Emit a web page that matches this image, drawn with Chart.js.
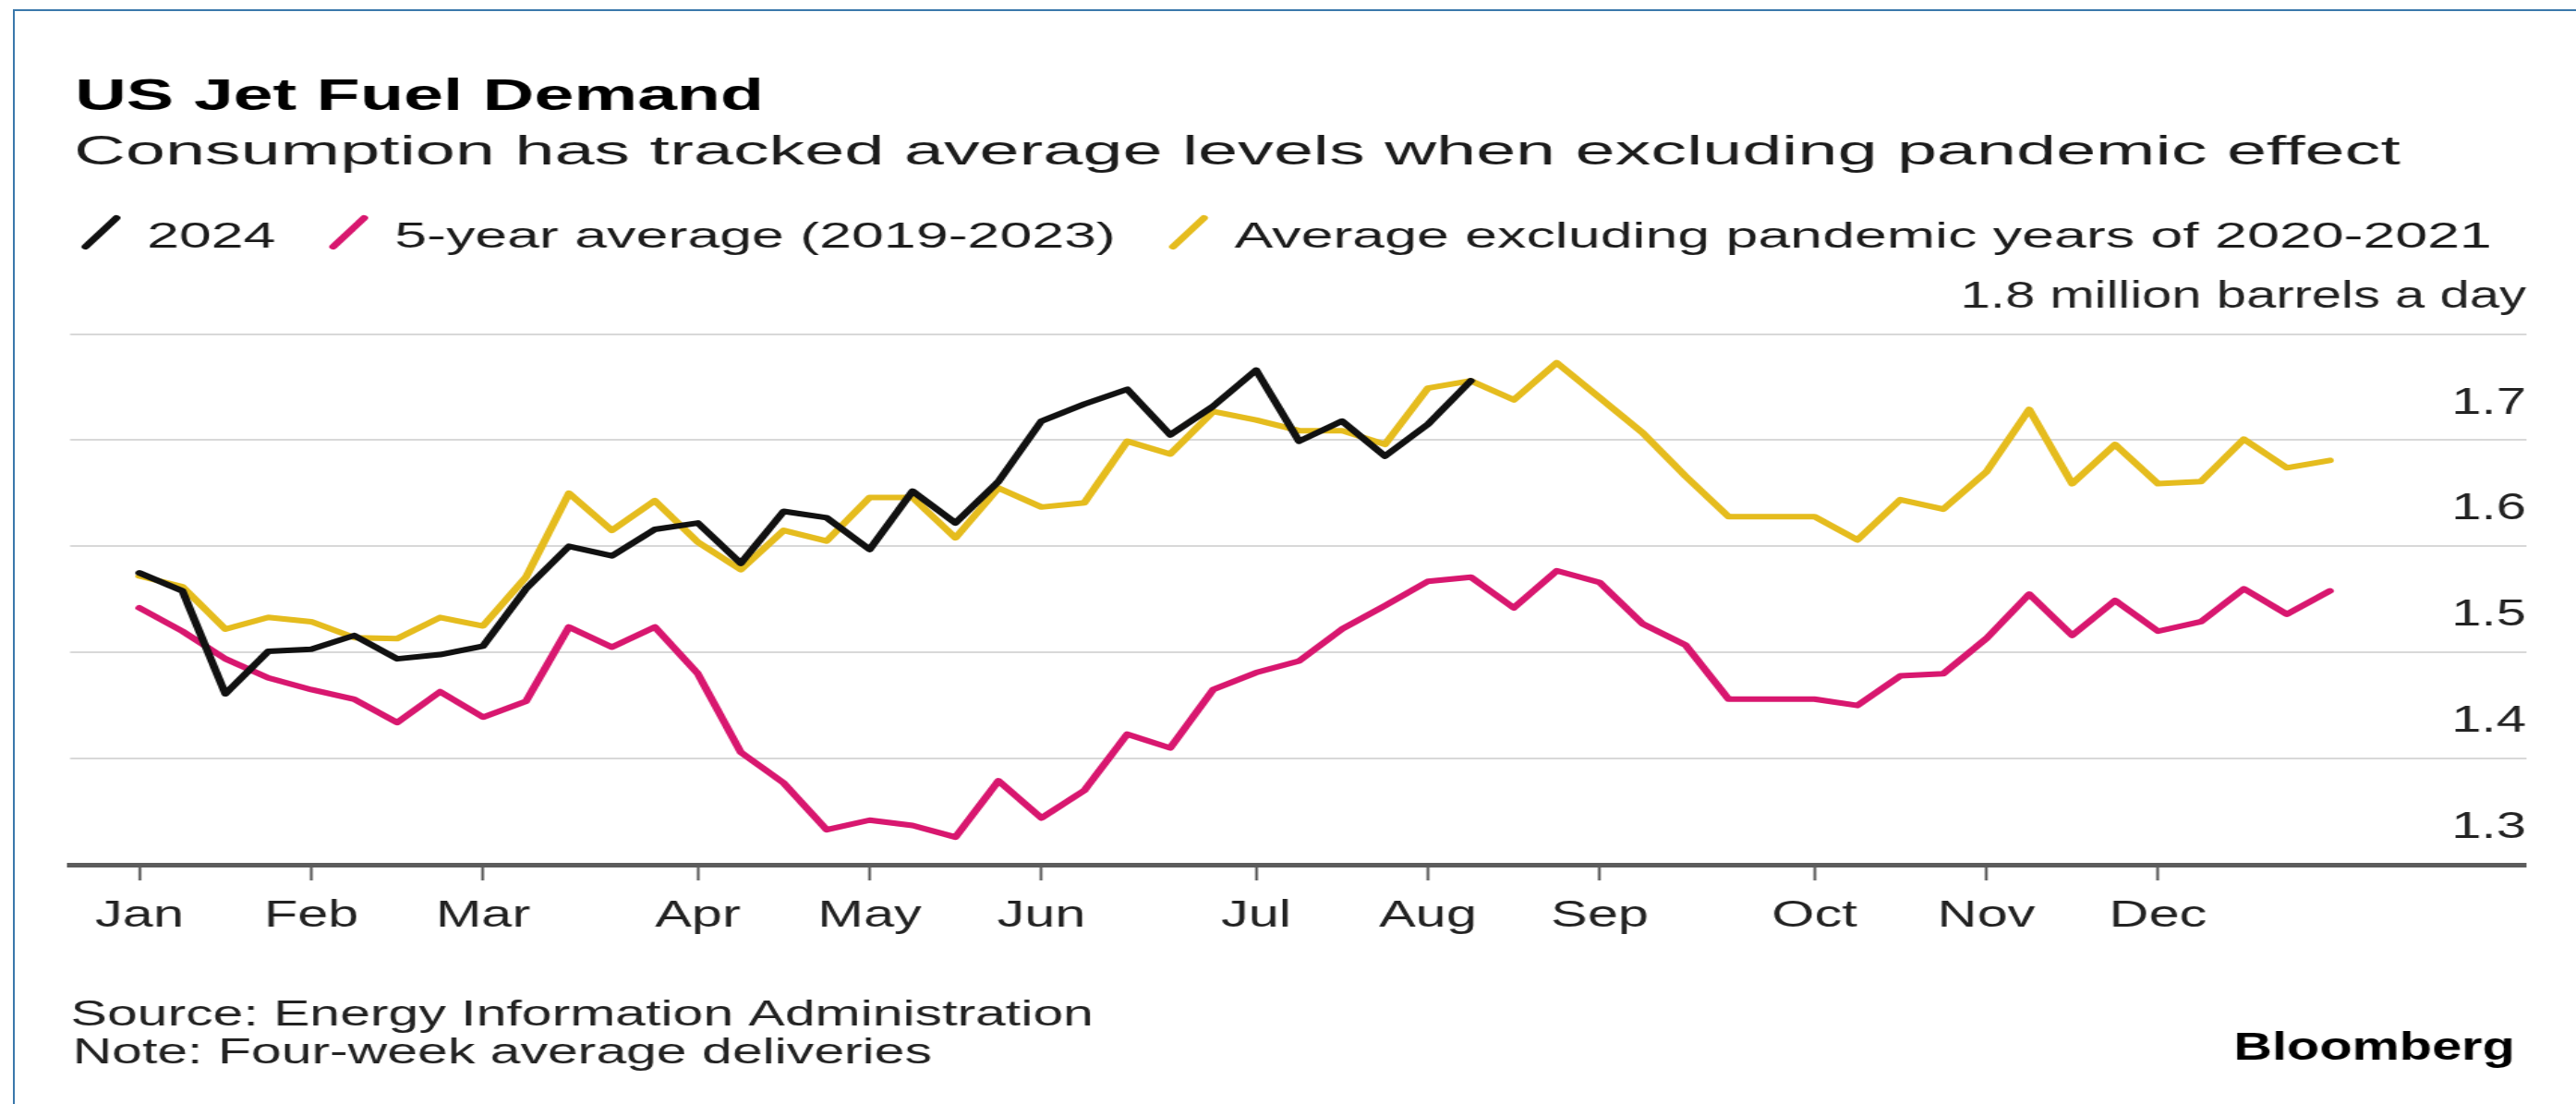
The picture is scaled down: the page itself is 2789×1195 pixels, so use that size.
<!DOCTYPE html>
<html>
<head>
<meta charset="utf-8">
<title>US Jet Fuel Demand</title>
<script src="https://cdn.jsdelivr.net/npm/chart.js@4.4.1/dist/chart.umd.min.js"></script>
<style>
  html, body { margin: 0; padding: 0; background: #fff; }
  body { width: 2789px; height: 1195px; position: relative; overflow: hidden; }
  #frame { position: absolute; left: 14px; top: 10px; right: -10px; bottom: -10px;
           border-left: 2px solid #3a78ab; border-top: 2px solid #3a78ab; }
  /* the reference is stretched sideways, so the whole chart is drawn narrow and scaled */
  #stretch { position: absolute; left: 0; top: 0; width: 1924px; height: 1195px;
             transform: scaleX(1.44958); transform-origin: 0 0; }
</style>
</head>
<body>
<div id="frame"></div>
<div id="stretch"><canvas id="myChart" width="1924" height="1195"></canvas></div>
<script>
const titleText = 'US Jet Fuel Demand';
const subtitleText = 'Consumption has tracked average levels when excluding pandemic effect';
const sourceText = 'Source: Energy Information Administration';
const noteText = 'Note: Four-week average deliveries';

const seriesNames = ['2024', '5-year average (2019-2023)', 'Average excluding pandemic years of 2020-2021'];

// month labels sit on the first week of each month (weekly data, week 0 = first week of Jan)
const monthLabels = ['Jan', 'Feb', 'Mar', 'Apr', 'May', 'Jun', 'Jul', 'Aug', 'Sep', 'Oct', 'Nov', 'Dec'];
const monthWeeks = [0, 4, 8, 13, 17, 21, 26, 30, 34, 39, 43, 47];
const yTicks = [1.3, 1.4, 1.5, 1.6, 1.7, 1.8];

// million barrels a day, one value per week
const jet2024 = [1.575, 1.558, 1.461, 1.501, 1.503, 1.516, 1.494, 1.498, 1.506, 1.560,
                 1.600, 1.591, 1.616, 1.622, 1.584, 1.633, 1.627, 1.597, 1.652, 1.622,
                 1.661, 1.718, 1.734, 1.748, 1.705, 1.732, 1.766, 1.699, 1.718, 1.685,
                 1.715, 1.756];
const avg5yr = [1.542, 1.520, 1.494, 1.476, 1.465, 1.456, 1.434, 1.463, 1.439, 1.454,
                1.524, 1.505, 1.524, 1.480, 1.406, 1.377, 1.333, 1.342, 1.337, 1.326,
                1.379, 1.344, 1.370, 1.423, 1.410, 1.465, 1.481, 1.492, 1.522, 1.544,
                1.567, 1.571, 1.542, 1.577, 1.566, 1.527, 1.507, 1.456, 1.456, 1.456,
                1.450, 1.478, 1.480, 1.513, 1.555, 1.516, 1.549, 1.520, 1.529, 1.560,
                1.536, 1.558];
const avgExPandemic = [1.572, 1.562, 1.522, 1.533, 1.529, 1.514, 1.513, 1.533, 1.525, 1.571,
                       1.650, 1.615, 1.643, 1.604, 1.578, 1.615, 1.605, 1.646, 1.646, 1.608,
                       1.655, 1.637, 1.641, 1.699, 1.687, 1.727, 1.719, 1.709, 1.709, 1.696,
                       1.749, 1.756, 1.738, 1.773, 1.740, 1.707, 1.666, 1.628, 1.628, 1.628,
                       1.606, 1.644, 1.635, 1.670, 1.729, 1.659, 1.696, 1.659, 1.661, 1.701,
                       1.674, 1.681];

const FONT = '"Liberation Sans", Arial, Helvetica, sans-serif';

function toPoints(values) {
    return values.map((v, i) => ({x: i, y: v}));
}

// draws text squeezed or widened sideways, returns the drawn width
function drawStretched(ctx, text, x, y, font, stretch, align, color) {
    ctx.save();
    ctx.font = font;
    ctx.fillStyle = color;
    ctx.textBaseline = 'alphabetic';
    ctx.textAlign = 'left';
    const w = ctx.measureText(text).width * stretch;
    const left = align === 'right' ? x - w : x;
    ctx.translate(left, y);
    ctx.scale(stretch, 1);
    ctx.fillText(text, 0, 0);
    ctx.restore();
    return w;
}

const chrome = {
    id: 'chrome',
    afterDraw(chart) {
        const ctx = chart.ctx;
        drawStretched(ctx, titleText, 55.9, 119, `bold 48px ${FONT}`, 1.109, 'left', '#000');
        drawStretched(ctx, subtitleText, 55.2, 178, `45px ${FONT}`, 1.186, 'left', '#1c1c1c');

        // legend with slanted line markers
        let x = 57.9;
        const base = 268;
        chart.data.datasets.forEach((ds) => {
            ctx.save();
            ctx.strokeStyle = ds.borderColor;
            ctx.lineWidth = 6;
            ctx.lineCap = 'round';
            ctx.beginPath();
            ctx.moveTo(x + 6, base - 1);
            ctx.lineTo(x + 29, base - 32);
            ctx.stroke();
            ctx.restore();
            x += 51.8;
            x += drawStretched(ctx, ds.label, x, base, `38px ${FONT}`, 1.138, 'left', '#1c1c1c');
            x += 37;
        });

        drawStretched(ctx, sourceText, 52.8, 1110, `38px ${FONT}`, 1.07, 'left', '#222');
        drawStretched(ctx, noteText, 54.2, 1151, `38px ${FONT}`, 1.07, 'left', '#222');
        drawStretched(ctx, 'Bloomberg', 1878.4, 1147, `bold 42px ${FONT}`, 0.948, 'right', '#000');
    }
};

const myChartRef = document.getElementById('myChart').getContext('2d');

new Chart(myChartRef, {
    type: 'line',
    data: {
        datasets: [{
            label: seriesNames[0],
            data: toPoints(jet2024),
            borderColor: '#111111',
            borderWidth: 6
        }, {
            label: seriesNames[1],
            data: toPoints(avg5yr),
            borderColor: '#d8176f',
            borderWidth: 6
        }, {
            label: seriesNames[2],
            data: toPoints(avgExPandemic),
            borderColor: '#e5bc1e',
            borderWidth: 6
        }]
    },
    options: {
        responsive: false,
        animation: false,
        devicePixelRatio: 1,
        layout: {
            padding: {left: 52.4, right: 37.3, top: 361.6, bottom: 119}
        },
        plugins: {
            legend: {display: false},
            title: {display: false},
            tooltip: {enabled: false}
        },
        elements: {
            point: {radius: 0},
            line: {tension: 0, borderJoinStyle: 'round', borderCapStyle: 'round', fill: false}
        },
        scales: {
            x: {
                type: 'linear',
                min: -1.613,
                max: 55.57,
                afterBuildTicks: (scale) => {
                    scale.ticks = monthWeeks.map(v => ({value: v}));
                },
                afterFit: (scale) => {
                    scale.height = 140;
                },
                grid: {
                    display: true,
                    drawOnChartArea: false,
                    drawTicks: true,
                    tickLength: 17,
                    tickColor: '#555',
                    tickWidth: 2
                },
                border: {display: true, color: '#5c5c5c', width: 5},
                ticks: {
                    autoSkip: false,
                    maxRotation: 0,
                    padding: 14,
                    color: '#222',
                    font: {family: FONT, size: 41},
                    callback: (value, index) => monthLabels[index]
                }
            },
            y: {
                position: 'right',
                min: 1.3,
                max: 1.8,
                afterBuildTicks: (scale) => {
                    scale.ticks = yTicks.map(v => ({value: v}));
                },
                afterFit: (scale) => {
                    scale.width = 0;
                },
                grid: {
                    color: (c) => (c.tick && c.tick.value === 1.3) ? 'rgba(0,0,0,0)' : '#d8d8d8',
                    lineWidth: 2,
                    drawTicks: false
                },
                border: {display: false},
                ticks: {
                    mirror: true,
                    padding: 0,
                    labelOffset: -40,
                    color: '#222',
                    font: {family: FONT, size: 40},
                    callback: (value) => value === 1.8 ? '1.8 million barrels a day' : value.toFixed(1)
                }
            }
        }
    },
    plugins: [chrome]
});
</script>
</body>
</html>
